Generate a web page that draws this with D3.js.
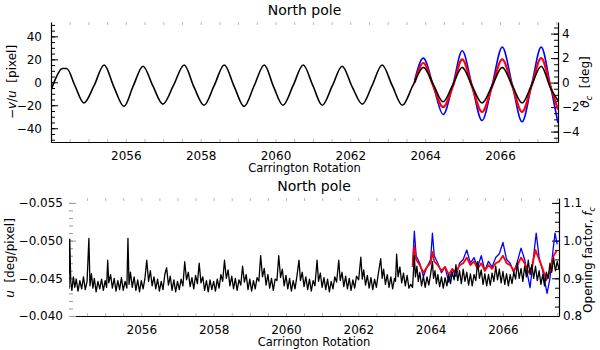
<!DOCTYPE html>
<html>
<head>
<meta charset="utf-8">
<script src="https://cdn.jsdelivr.net/npm/d3@7"></script>
<style>
  body { margin: 0; background: #fff; }
  text { font-family: "DejaVu Sans", sans-serif; fill: #000; }
</style>
</head>
<body>
<div id="chart"></div>
<script>
///////////////////////////
// data, x in Carrington rotations

let rotationLabels = [2056, 2058, 2060, 2062, 2064, 2066];
let rotationRange = [2054.0, 2067.55];

// top panel: -v/u [pixel] (black, left axis)
let topBlack = [
  [2054.00,-7],[2054.12,3],[2054.30,12],[2054.42,12],[2054.64,-3],[2054.88,-18],
  [2055.15,-3],[2055.42,15],[2055.68,-4],[2055.95,-21],
  [2056.20,-3],[2056.46,14],[2056.72,-3],[2056.99,-19],
  [2057.27,-3],[2057.56,15],[2057.82,-4],[2058.09,-20],
  [2058.36,-3],[2058.63,15],[2058.90,-4],[2059.16,-21],
  [2059.43,-3],[2059.70,15],[2059.95,-4],[2060.20,-20],
  [2060.47,-3],[2060.74,15],[2061.00,-3],[2061.25,-20],
  [2061.52,-3],[2061.78,14],[2062.05,-4],[2062.32,-19],
  [2062.58,-3],[2062.85,15],[2063.12,-3],[2063.39,-20],
  [2063.67,-3],[2063.95,13],[2064.22,-2],[2064.48,-17],
  [2064.74,-2],[2064.99,13],[2065.25,-3],[2065.52,-18],
  [2065.79,-3],[2066.06,13],[2066.33,-3],[2066.59,-18],
  [2066.85,-2],[2067.10,14],[2067.35,-5],[2067.55,-16]
];

// top panel: theta_c [deg] (right axis)
let topBlue = [
  [2063.72,0.2],[2063.95,2.0],[2064.22,-0.3],[2064.48,-2.6],[2064.74,-0.2],[2064.99,2.6],
  [2065.25,-0.2],[2065.52,-3.1],[2065.79,-0.2],[2066.06,2.9],[2066.33,-0.2],[2066.59,-3.2],
  [2066.85,-0.1],[2067.10,2.9],[2067.35,-0.3],[2067.55,-3.3]
];
let topRed = [
  [2063.72,0.0],[2063.95,1.6],[2064.22,-0.3],[2064.48,-2.0],[2064.74,-0.3],[2064.99,1.9],
  [2065.25,-0.3],[2065.52,-2.4],[2065.79,-0.3],[2066.06,1.9],[2066.33,-0.3],[2066.59,-2.4],
  [2066.85,-0.2],[2067.10,2.0],[2067.35,-0.3],[2067.55,-2.2]
];

// bottom panel: u [deg/pixel] (black, left axis)
let bottomBlack = [
  [2054.00,-0.0436],[2054.02,-0.0502],[2054.05,-0.0445],[2054.08,-0.0434],[2054.12,-0.0452],
  [2054.16,-0.0438],[2054.20,-0.0449],[2054.25,-0.0433],[2054.30,-0.0447],[2054.35,-0.0436],
  [2054.40,-0.0452],[2054.45,-0.0435],[2054.50,-0.0446],[2054.55,-0.0503],[2054.58,-0.0440],
  [2054.62,-0.0456],[2054.66,-0.0437],[2054.70,-0.0450],[2054.75,-0.0432],[2054.80,-0.0446],
  [2054.85,-0.0436],[2054.90,-0.0449],[2054.95,-0.0434],[2055.00,-0.0447],[2055.04,-0.0438],
  [2055.07,-0.0474],[2055.10,-0.0444],[2055.15,-0.0455],[2055.20,-0.0437],[2055.25,-0.0450],
  [2055.30,-0.0433],[2055.35,-0.0447],[2055.40,-0.0435],[2055.45,-0.0451],[2055.50,-0.0434],
  [2055.55,-0.0446],[2055.60,-0.0437],[2055.63,-0.0503],[2055.66,-0.0442],[2055.70,-0.0458],
  [2055.75,-0.0438],[2055.80,-0.0452],[2055.85,-0.0434],[2055.90,-0.0448],[2055.95,-0.0432],
  [2056.00,-0.0447],[2056.05,-0.0436],[2056.10,-0.0450],[2056.15,-0.0474],[2056.20,-0.0446],
  [2056.25,-0.0460],[2056.30,-0.0440],[2056.35,-0.0452],[2056.40,-0.0436],[2056.45,-0.0449],
  [2056.50,-0.0433],[2056.55,-0.0446],[2056.60,-0.0435],[2056.65,-0.0455],[2056.70,-0.0464],
  [2056.75,-0.0441],[2056.80,-0.0453],[2056.85,-0.0434],[2056.90,-0.0448],[2056.95,-0.0432],
  [2057.00,-0.0446],[2057.05,-0.0435],[2057.10,-0.0449],[2057.15,-0.0440],[2057.20,-0.0472],
  [2057.25,-0.0448],[2057.30,-0.0458],[2057.35,-0.0439],[2057.40,-0.0451],[2057.45,-0.0436],
  [2057.50,-0.0454],[2057.55,-0.0443],[2057.60,-0.0470],[2057.65,-0.0444],[2057.70,-0.0452],
  [2057.75,-0.0434],[2057.80,-0.0447],[2057.85,-0.0432],[2057.90,-0.0448],[2057.95,-0.0435],
  [2058.00,-0.0446],[2058.05,-0.0433],[2058.10,-0.0449],[2058.15,-0.0437],[2058.20,-0.0455],
  [2058.25,-0.0446],[2058.30,-0.0474],[2058.35,-0.0450],[2058.40,-0.0461],[2058.45,-0.0440],
  [2058.50,-0.0453],[2058.55,-0.0436],[2058.60,-0.0450],[2058.65,-0.0434],[2058.70,-0.0448],
  [2058.75,-0.0441],[2058.80,-0.0466],[2058.85,-0.0445],[2058.90,-0.0455],[2058.95,-0.0435],
  [2059.00,-0.0449],[2059.05,-0.0433],[2059.10,-0.0447],[2059.15,-0.0436],[2059.20,-0.0451],
  [2059.25,-0.0446],[2059.30,-0.0480],[2059.35,-0.0452],[2059.40,-0.0463],[2059.45,-0.0441],
  [2059.50,-0.0455],[2059.55,-0.0437],[2059.60,-0.0450],[2059.65,-0.0434],[2059.70,-0.0449],
  [2059.75,-0.0447],[2059.80,-0.0480],[2059.85,-0.0451],[2059.90,-0.0462],[2059.95,-0.0440],
  [2060.00,-0.0454],[2060.05,-0.0436],[2060.10,-0.0450],[2060.15,-0.0433],[2060.20,-0.0447],
  [2060.25,-0.0436],[2060.30,-0.0452],[2060.36,-0.0474],[2060.40,-0.0447],[2060.45,-0.0458],
  [2060.50,-0.0439],[2060.55,-0.0452],[2060.60,-0.0435],[2060.65,-0.0449],[2060.70,-0.0433],
  [2060.75,-0.0447],[2060.80,-0.0440],[2060.86,-0.0474],[2060.90,-0.0446],[2060.95,-0.0457],
  [2061.00,-0.0438],[2061.05,-0.0451],[2061.10,-0.0435],[2061.15,-0.0449],[2061.20,-0.0432],
  [2061.25,-0.0446],[2061.30,-0.0436],[2061.35,-0.0452],[2061.40,-0.0445],[2061.46,-0.0474],
  [2061.50,-0.0447],[2061.55,-0.0458],[2061.60,-0.0439],[2061.65,-0.0453],[2061.70,-0.0436],
  [2061.75,-0.0450],[2061.80,-0.0434],[2061.85,-0.0448],[2061.90,-0.0437],[2061.95,-0.0453],
  [2062.01,-0.0448],[2062.07,-0.0478],[2062.11,-0.0449],[2062.15,-0.0461],[2062.20,-0.0441],
  [2062.25,-0.0454],[2062.30,-0.0437],[2062.35,-0.0451],[2062.40,-0.0435],[2062.45,-0.0449],
  [2062.50,-0.0438],[2062.55,-0.0455],[2062.62,-0.0476],[2062.66,-0.0450],[2062.70,-0.0462],
  [2062.75,-0.0442],[2062.80,-0.0455],[2062.85,-0.0438],[2062.90,-0.0452],[2062.95,-0.0436],
  [2063.00,-0.0450],[2063.03,-0.0446],[2063.06,-0.0482],[2063.10,-0.0452],[2063.15,-0.0465],
  [2063.20,-0.0444],[2063.25,-0.0457],[2063.30,-0.0440],[2063.35,-0.0454],[2063.40,-0.0437],
  [2063.45,-0.0442],[2063.50,-0.0438],[2063.55,-0.0480],[2063.58,-0.0452],[2063.62,-0.0466],
  [2063.66,-0.0446],[2063.70,-0.0458],[2063.75,-0.0440],[2063.80,-0.0453],[2063.85,-0.0438],
  [2063.90,-0.0452],[2063.95,-0.0441],[2064.00,-0.0456],[2064.05,-0.0472],[2064.08,-0.0450],
  [2064.12,-0.0460],[2064.16,-0.0443],[2064.20,-0.0455],[2064.25,-0.0439],[2064.30,-0.0452],
  [2064.35,-0.0437],[2064.40,-0.0451],[2064.45,-0.0440],[2064.50,-0.0455],[2064.55,-0.0443],
  [2064.60,-0.0458],[2064.65,-0.0448],[2064.70,-0.0468],[2064.75,-0.0447],[2064.80,-0.0460],
  [2064.85,-0.0443],[2064.90,-0.0462],[2064.95,-0.0446],[2065.00,-0.0458],[2065.05,-0.0441],
  [2065.10,-0.0456],[2065.15,-0.0440],[2065.20,-0.0455],[2065.25,-0.0447],[2065.30,-0.0472],
  [2065.35,-0.0450],[2065.40,-0.0461],[2065.45,-0.0442],[2065.50,-0.0456],[2065.55,-0.0440],
  [2065.60,-0.0455],[2065.65,-0.0441],[2065.70,-0.0457],[2065.75,-0.0446],[2065.80,-0.0466],
  [2065.85,-0.0448],[2065.90,-0.0462],[2065.95,-0.0444],[2066.00,-0.0459],[2066.05,-0.0442],
  [2066.10,-0.0456],[2066.15,-0.0440],[2066.20,-0.0455],[2066.25,-0.0443],[2066.30,-0.0458],
  [2066.35,-0.0449],[2066.40,-0.0470],[2066.45,-0.0450],[2066.50,-0.0463],[2066.55,-0.0446],
  [2066.60,-0.0466],[2066.65,-0.0452],[2066.70,-0.0474],[2066.75,-0.0455],[2066.80,-0.0468],
  [2066.85,-0.0450],[2066.90,-0.0466],[2066.95,-0.0447],[2067.00,-0.0460],[2067.05,-0.0442],
  [2067.10,-0.0455],[2067.15,-0.0440],[2067.20,-0.0458],[2067.25,-0.0450],[2067.30,-0.0470],
  [2067.35,-0.0458],[2067.40,-0.0477],[2067.45,-0.0460],[2067.50,-0.0472],[2067.55,-0.0462]
];

// bottom panel: opening factor f_c (right axis)
let bottomBlue = [
  [2063.50,0.935],[2063.55,1.025],[2063.60,0.960],[2063.70,0.940],[2063.80,0.905],[2063.90,0.930],
  [2064.00,0.950],[2064.05,1.020],[2064.10,0.960],[2064.20,0.940],[2064.30,0.915],[2064.40,0.930],
  [2064.50,0.890],[2064.60,0.925],[2064.70,0.905],[2064.80,0.940],[2064.90,0.950],[2065.00,0.975],
  [2065.10,0.940],[2065.20,0.955],[2065.30,0.930],[2065.40,0.960],[2065.50,0.920],[2065.60,0.945],
  [2065.70,0.930],[2065.80,0.955],[2065.90,0.965],[2066.00,0.995],[2066.10,0.950],[2066.20,0.940],
  [2066.30,0.915],[2066.40,0.945],[2066.50,0.980],[2066.60,0.950],[2066.70,0.900],[2066.75,0.875],
  [2066.85,0.960],[2066.92,1.020],[2067.00,0.955],[2067.10,0.920],[2067.22,0.860],[2067.30,0.900],
  [2067.38,0.970],[2067.44,1.020],[2067.50,0.990]
];
let bottomRed = [
  [2063.50,0.930],[2063.55,0.985],[2063.60,0.950],[2063.70,0.935],[2063.80,0.915],[2063.90,0.930],
  [2064.00,0.940],[2064.05,0.970],[2064.10,0.945],[2064.20,0.935],[2064.30,0.920],[2064.40,0.930],
  [2064.50,0.910],[2064.60,0.925],[2064.70,0.915],[2064.80,0.935],[2064.90,0.940],[2065.00,0.955],
  [2065.10,0.935],[2065.20,0.945],[2065.30,0.925],[2065.40,0.940],[2065.50,0.920],[2065.60,0.935],
  [2065.70,0.925],[2065.80,0.940],[2065.90,0.945],[2066.00,0.960],[2066.10,0.940],[2066.20,0.935],
  [2066.30,0.920],[2066.40,0.935],[2066.50,0.955],[2066.60,0.940],[2066.70,0.915],[2066.80,0.930],
  [2066.90,0.975],[2067.00,0.950],[2067.10,0.925],[2067.20,0.895],[2067.30,0.920],[2067.40,0.960],
  [2067.50,0.975]
];

let topLeftTicks = [-40, -20, 0, 20, 40];
let topRightTicks = [-4, -2, 0, 2, 4];
let bottomLeftTicks = [-0.055, -0.050, -0.045, -0.040];
let bottomRightTicks = [0.8, 0.9, 1.0, 1.1];

///////////////////////////

let w = 600;
let h = 350;

let svg = d3.select("#chart").append("svg")
    .attr("width", w)
    .attr("height", h)
    .style("background-color", "white");

// minor ticks along the time axis (faint in the original)
let halfRotations = d3.range(2054.5, 2067.55, 0.5);

function drawPanel(box, yLeft, yRight, opts) {
  let x = d3.scaleLinear().domain(rotationRange).range([box.left, box.right]);

  let clipId = "clip" + opts.id;
  svg.append("clipPath").attr("id", clipId)
    .append("rect")
      .attr("x", box.left).attr("y", box.top)
      .attr("width", box.right - box.left).attr("height", box.bottom - box.top);

  // faint half-rotation ticks, bottom and top
  svg.append("g")
    .attr("transform", "translate(0," + box.bottom + ")")
    .call(d3.axisBottom(x).tickValues(halfRotations).tickSize(-3).tickFormat(""))
    .call(g => g.select(".domain").remove())
    .selectAll("line").attr("stroke", "#bbb");
  svg.append("g")
    .attr("transform", "translate(0," + box.top + ")")
    .call(d3.axisTop(x).tickValues(halfRotations).tickSize(-3).tickFormat(""))
    .call(g => g.select(".domain").remove())
    .selectAll("line").attr("stroke", "#bbb");

  // bottom axis line + labels
  let xAxis = svg.append("g")
    .attr("transform", "translate(0," + box.bottom + ")")
    .call(d3.axisBottom(x).tickValues(rotationLabels).tickSize(0).tickSizeOuter(0)
      .tickPadding(9).tickFormat(d3.format("d")));
  xAxis.select(".domain").attr("stroke", "#000").attr("stroke-width", 1.2);
  xAxis.selectAll("text").style("font-size", "12px");

  svg.append("text")
    .attr("x", (box.left + box.right) / 2)
    .attr("y", box.bottom + 30)
    .attr("text-anchor", "middle")
    .style("font-size", "11.5px")
    .text("Carrington Rotation");

  svg.append("text")
    .attr("x", (box.left + box.right) / 2)
    .attr("y", box.top - 7)
    .attr("text-anchor", "middle")
    .style("font-size", "14px")
    .text("North pole");

  // left axis
  let leftMinor = svg.append("g")
    .attr("transform", "translate(" + box.left + ",0)")
    .call(d3.axisLeft(yLeft).tickValues(opts.leftMinor).tickSize(-4).tickFormat(""));
  leftMinor.select(".domain").remove();
  leftMinor.selectAll("line").attr("stroke", opts.leftTickColor);

  let leftAxis = svg.append("g")
    .attr("transform", "translate(" + box.left + ",0)")
    .call(d3.axisLeft(yLeft).tickValues(opts.leftTicks).tickSizeInner(-7).tickSizeOuter(0)
      .tickPadding(opts.leftPad).tickFormat(opts.leftFormat));
  leftAxis.selectAll("text").style("font-size", "12px");
  leftAxis.selectAll("line").attr("stroke", opts.leftTickColor);
  if (opts.leftLine) {
    leftAxis.select(".domain").attr("stroke", "#000").attr("stroke-width", 1.2);
  } else {
    leftAxis.select(".domain").remove();
  }

  // right axis
  let rightMinor = svg.append("g")
    .attr("transform", "translate(" + box.right + ",0)")
    .call(d3.axisRight(yRight).tickValues(opts.rightMinor).tickSize(-4).tickFormat(""));
  rightMinor.select(".domain").remove();

  let rightAxis = svg.append("g")
    .attr("transform", "translate(" + box.right + ",0)")
    .call(d3.axisRight(yRight).tickValues(opts.rightTicks).tickSizeInner(-7).tickSizeOuter(0)
      .tickPadding(4).tickFormat(opts.rightFormat));
  rightAxis.select(".domain").attr("stroke", "#000").attr("stroke-width", 1.2);
  rightAxis.selectAll("text").style("font-size", "12px");

  // lines
  let plot = svg.append("g").attr("clip-path", "url(#" + clipId + ")");
  opts.series.forEach(function(s) {
    let line = d3.line()
      .x(d => x(d[0]))
      .y(d => s.y(d[1]))
      .curve(s.curve);
    plot.append("path")
      .datum(s.data)
      .attr("d", line)
      .attr("fill", "none")
      .attr("stroke", s.color)
      .attr("stroke-width", s.width)
      .attr("stroke-linejoin", "round");
  });

  return x;
}

///////////////////////////
// top panel

let topBox = {left: 51, right: 558, top: 22, bottom: 142};
let yTopL = d3.scaleLinear().domain([-52, 52.5]).range([topBox.bottom, topBox.top]);
let yTopR = d3.scaleLinear().domain([-4.85, 4.95]).range([topBox.bottom, topBox.top]);

drawPanel(topBox, yTopL, yTopR, {
  id: "top",
  leftTicks: topLeftTicks,
  leftMinor: d3.range(-50, 51, 5),
  leftFormat: d3.format("d"),
  leftPad: 9,
  leftLine: true,
  leftTickColor: "#000",
  rightTicks: topRightTicks,
  rightMinor: d3.range(-4.5, 4.6, 0.5),
  rightFormat: d3.format("d"),
  series: [
    {data: topBlue, y: yTopR, color: "#0000ff", width: 1.6, curve: d3.curveMonotoneX},
    {data: topRed, y: yTopR, color: "#ff0000", width: 2.2, curve: d3.curveMonotoneX},
    {data: topBlack, y: yTopL, color: "#000", width: 1.6, curve: d3.curveMonotoneX}
  ]
});

// axis titles, top
let tl = svg.append("text")
  .attr("transform", "translate(16,82) rotate(-90)")
  .attr("text-anchor", "middle")
  .style("font-size", "12px");
tl.append("tspan").text("\u2212");
tl.append("tspan").style("font-style", "italic").text("v");
tl.append("tspan").text("/");
tl.append("tspan").style("font-style", "italic").text("u");
tl.append("tspan").text("\u00a0\u00a0[pixel]");

let tr = svg.append("text")
  .attr("transform", "translate(589,82) rotate(-90)")
  .attr("text-anchor", "middle")
  .style("font-size", "12px");
tr.append("tspan").style("font-style", "italic").text("\u03d1");
tr.append("tspan").attr("dy", 3).style("font-size", "8px").style("font-style", "italic").text("c");
tr.append("tspan").attr("dy", -3).text("\u00a0\u00a0[deg]");

///////////////////////////
// bottom panel

let botBox = {left: 69, right: 559, top: 198, bottom: 316};
let yBotL = d3.scaleLinear().domain([-0.040, -0.05565]).range([botBox.bottom, botBox.top]);
let yBotR = d3.scaleLinear().domain([0.8, 1.113]).range([botBox.bottom, botBox.top]);

drawPanel(botBox, yBotL, yBotR, {
  id: "bot",
  leftTicks: bottomLeftTicks,
  leftMinor: d3.range(-0.055, -0.0399, 0.001),
  leftFormat: d3.format(".3f"),
  leftPad: 6,
  leftLine: false,
  leftTickColor: "#999",
  rightTicks: bottomRightTicks,
  rightMinor: d3.range(0.8, 1.11, 0.025),
  rightFormat: d3.format(".1f"),
  series: [
    {data: bottomBlue, y: yBotR, color: "#0000ff", width: 1.3, curve: d3.curveLinear},
    {data: bottomRed, y: yBotR, color: "#ff0000", width: 1.8, curve: d3.curveLinear},
    {data: bottomBlack, y: yBotL, color: "#000", width: 1.3, curve: d3.curveLinear}
  ]
});

let bl = svg.append("text")
  .attr("transform", "translate(14,258) rotate(-90)")
  .attr("text-anchor", "middle")
  .style("font-size", "12px");
bl.append("tspan").style("font-style", "italic").text("u");
bl.append("tspan").text("\u00a0\u00a0[deg/pixel]");

let br = svg.append("text")
  .attr("transform", "translate(592,260) rotate(-90)")
  .attr("text-anchor", "middle")
  .style("font-size", "12px");
br.append("tspan").text("Opening factor, ");
br.append("tspan").style("font-style", "italic").text("f");
br.append("tspan").attr("dy", 3).style("font-size", "8px").style("font-style", "italic").text("c");
</script>
</body>
</html>
